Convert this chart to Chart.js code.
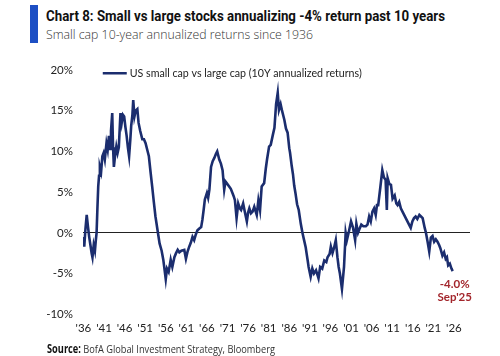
<!DOCTYPE html>
<html>
<head>
<meta charset="utf-8">
<script src="https://cdn.jsdelivr.net/npm/chart.js@4"></script>
<style>
  html, body { margin: 0; padding: 0; background: #fff; }
  #wrap { position: relative; width: 500px; height: 356px; overflow: hidden; }
  #bar { position: absolute; left: 30px; top: 5px; width: 8px; height: 38px; background: #1d4fc4; }
  .fit { position: absolute; white-space: nowrap; transform-origin: 0 0; }
  #title { left: 46px; top: 7px; font-family: Roboto, "Open Sans", sans-serif; font-weight: bold; font-size: 15px; color: #111; }
  #subtitle { left: 46px; top: 25px; font-family: "Open Sans", Lato, sans-serif; font-weight: 300; font-size: 13.5px; color: #333; }
  #source { left: 47px; top: 341px; font-family: "Open Sans", Lato, sans-serif; font-size: 11.5px; color: #333; }
  #source b { color: #111; }
  canvas { position: absolute; left: 0; top: 0; }
</style>
</head>
<body>
<div id="wrap">
  <div id="bar"></div>
  <div id="title" class="fit" data-w="399">Chart 8: Small vs large stocks annualizing -4% return past 10 years</div>
  <div id="subtitle" class="fit" data-w="267">Small cap 10-year annualized returns since 1936</div>
  <canvas id="c" width="500" height="356"></canvas>
  <div id="source" class="fit" data-w="228"><b>Source:</b> BofA Global Investment Strategy, Bloomberg</div>
</div>
<script>
const seriesLabel = "US small cap vs large cap (10Y annualized returns)";
const years = [
1936.0,1936.2,1936.5,1936.8,1937.1,1937.4,1937.7,1938.0,1938.2,1938.5,1938.8,1939.0,1939.2,1939.4,1939.6,1939.8,
1940.0,1940.3,1940.6,1940.9,1941.2,1941.6,1941.9,1942.2,1942.5,1942.7,1943.0,1943.2,1943.4,1943.7,1944.0,1944.3,1944.6,
1945.0,1945.3,1945.6,1945.9,1946.2,1946.5,1946.8,1947.1,1947.4,1947.6,1947.9,1948.1,1948.4,1948.7,1949.1,1949.4,1949.8,
1950.3,1950.7,1951.1,1951.5,1951.9,1952.3,1952.7,1953.1,1953.5,1954.1,1954.5,1955.0,1955.4,1955.7,1956.0,1956.3,1956.7,
1957.2,1957.6,1958.1,1958.5,1958.9,1959.3,1959.8,1960.5,1960.9,1961.3,1961.7,1962.1,1962.5,1962.9,1963.3,1963.7,1964.1,
1964.6,1964.9,1965.2,1965.5,1966.0,1966.3,1966.6,1967.0,1967.4,1967.8,1968.2,1968.5,1969.0,1969.4,1969.8,1970.2,1970.5,
1970.8,1971.4,1971.8,1972.2,1972.5,1972.8,1973.2,1973.6,1974.0,1974.3,1974.8,1975.2,1975.7,1976.0,1976.3,1976.7,1977.1,
1977.5,1978.1,1978.5,1978.9,1979.3,1979.9,1980.3,1980.6,1981.1,1981.5,1982.0,1982.4,1982.8,1983.2,1983.5,1983.9,1984.2,
1984.8,1985.2,1985.6,1986.0,1986.2,1986.6,1986.9,1987.2,1987.5,1987.9,1988.3,1988.8,1989.2,1989.6,1990.0,1990.2,1990.5,
1990.7,1991.2,1991.6,1992.0,1992.5,1993.1,1993.5,1994.0,1994.5,1995.0,1995.3,1995.8,1996.1,1996.5,1996.9,1997.3,1997.7,
1998.0,1998.3,1998.8,1999.3,1999.7,2000.0,2000.5,2001.0,2001.5,2002.0,2002.3,2002.7,2003.0,2003.5,2004.0,2004.6,2005.0,
2005.4,2005.8,2006.2,2006.6,2007.0,2007.3,2007.6,2008.1,2008.6,2009.0,2009.4,2009.7,2009.9,2010.3,2010.7,2011.1,2011.6,
2012.0,2012.3,2012.7,2013.1,2013.5,2013.9,2014.3,2014.7,2015.1,2015.5,2015.9,2016.3,2016.7,2017.1,2017.6,2018.0,2018.4,
2018.9,2019.2,2019.6,2020.0,2020.4,2020.8,2021.2,2021.6,2022.0,2022.4,2022.7,2023.2,2023.6,2024.0,2024.3,2024.6,2025.0,
2025.4,2025.7];
const values = [
-0.5,-1.7,0.5,2.2,0.8,-0.5,-1.5,-2.5,-3.0,-1.5,-2.2,-1.0,0.0,3.0,5.7,7.0,
8.1,7.5,9.4,9.8,9.0,11.0,10.2,11.9,10.3,12.5,14.7,10.5,8.1,9.5,10.6,9.8,10.5,
14.7,13.5,14.5,14.3,13.0,11.9,10.5,9.4,11.5,13.1,14.5,16.3,14.3,15.0,15.2,13.5,12.5,
11.5,11.5,11.0,10.2,9.4,7.5,5.7,3.8,2.0,0.0,-1.3,-2.2,-3.3,-4.5,-5.7,-4.4,-4.8,
-3.3,-4.2,-3.0,-2.5,-2.1,-2.4,-2.2,-2.1,-3.2,-2.3,-1.7,-1.2,-0.5,-0.9,-0.2,0.3,0.5,
0.7,1.6,2.8,4.1,4.9,4.3,5.3,8.1,8.8,9.2,9.7,10.0,9.0,8.5,7.7,5.3,6.3,
6.1,5.7,5.4,4.9,4.5,4.0,1.8,3.6,3.0,2.8,3.6,2.6,1.4,2.5,3.0,2.4,2.6,
3.2,2.2,4.0,2.8,5.7,6.1,7.9,9.0,10.6,10.8,12.0,12.9,15.8,17.2,15.1,15.8,15.1,
13.9,12.8,12.3,10.4,9.8,8.2,7.2,5.8,4.9,3.5,2.8,1.1,0.0,-0.9,-1.8,-2.5,-3.5,
-4.2,-5.4,-4.4,-5.0,-4.6,-5.6,-4.2,-4.4,-3.4,-3.6,-3.0,-2.6,-1.7,-2.5,-1.8,-0.9,-3.0,
-4.2,-5.0,-6.9,-4.2,0.0,-0.9,0.2,1.4,0.6,-0.9,1.1,0.0,0.4,1.0,0.8,0.8,1.0,
2.0,1.4,2.6,3.0,2.2,3.4,3.4,5.5,7.7,6.8,6.5,2.8,6.7,6.0,5.9,4.2,4.6,
3.6,3.4,3.8,3.0,2.6,2.2,1.8,1.4,1.0,0.6,1.4,1.8,2.0,1.7,2.2,2.0,1.8,
0.6,0.0,-1.1,-2.3,-0.6,-0.4,-1.1,-0.8,-1.1,-1.5,-1.9,-2.8,-2.4,-3.2,-3.0,-4.0,-3.8,
-4.4,-4.7];
const xTickYears = [1936,1941,1946,1951,1956,1961,1966,1971,1976,1981,1986,1991,1996,2001,2006,2011,2016,2021,2026];
const xTickLabels = ["'36","'41","'46","'51","'56","'61","'66","'71","'76","'81","'86","'91","'96","'01","'06","'11","'16","'21","'26"];
const yTickValues = [20,15,10,5,0,-5,-10];
const lastValueLabel = "-4.0%";
const lastDateLabel = "Sep'25";

document.querySelectorAll('.fit').forEach(el => {
  const target = parseFloat(el.dataset.w);
  const w = el.getBoundingClientRect().width;
  if (w > 0) el.style.transform = 'scaleX(' + (target / w) + ')';
});

const points = years.map((y, i) => ({ x: y, y: values[i] }));
const navy = '#1b2d6e';

const overlay = {
  id: 'overlay',
  afterDraw(chart) {
    const ctx = chart.ctx;
    const xs = chart.scales.x, ys = chart.scales.y;
    ctx.save();
    // legend inside plot
    const lx = xs.getPixelForValue(1940.7), ly = ys.getPixelForValue(19.6);
    ctx.strokeStyle = navy; ctx.lineWidth = 2.5;
    ctx.beginPath(); ctx.moveTo(lx, ly); ctx.lineTo(lx + 24, ly); ctx.stroke();
    ctx.fillStyle = '#222';
    ctx.font = '11px Lato, "Open Sans", sans-serif';
    ctx.textBaseline = 'middle'; ctx.textAlign = 'left';
    const tw = ctx.measureText(seriesLabel).width;
    ctx.save();
    ctx.translate(lx + 27, ly);
    ctx.scale(232 / tw, 1);
    ctx.fillText(seriesLabel, 0, 0);
    ctx.restore();
    // end annotation
    const last = points[points.length - 1];
    const ax = xs.getPixelForValue(last.x) + 2;
    const ay = ys.getPixelForValue(last.y);
    ctx.fillStyle = '#a3262c';
    ctx.font = 'bold 11.5px Lato, "Open Sans", sans-serif';
    ctx.textAlign = 'center';
    ctx.fillText(lastValueLabel, ax, ay + 13);
    ctx.fillText(lastDateLabel, ax, ay + 26);
    ctx.restore();
  }
};

new Chart(document.getElementById('c'), {
  type: 'line',
  data: { datasets: [{ label: seriesLabel, data: points, borderColor: navy, borderWidth: 2.6, pointRadius: 0, tension: 0, fill: false }] },
  options: {
    responsive: false, animation: false, devicePixelRatio: 1,
    layout: { padding: { left: 0, right: 30, top: 70, bottom: 14 } },
    plugins: { legend: { display: false }, tooltip: { enabled: false } },
    scales: {
      x: {
        type: 'linear', min: 1935.9, max: 2029.9,
        grid: { display: false, drawTicks: false }, border: { display: false },
        afterBuildTicks: (s) => { s.ticks = xTickYears.map(v => ({ value: v })); },
        ticks: { padding: 7, autoSkip: false, maxRotation: 0, minRotation: 0, color: '#222',
          font: { family: 'Lato, "Open Sans", sans-serif', size: 11.5 },
          callback: (v, i) => xTickLabels[i] }
      },
      y: {
        min: -10, max: 20,
        afterBuildTicks: (s) => { s.ticks = yTickValues.map(v => ({ value: v })); },
        afterFit: (s) => { s.width = 83; },
        grid: { drawTicks: false, lineWidth: 1, color: (c) => c.tick && c.tick.value === 0 ? '#222' : 'rgba(0,0,0,0)' },
        border: { display: false },
        ticks: { padding: 10, color: '#222', font: { family: 'Lato, "Open Sans", sans-serif', size: 11.5 },
          callback: (v) => v + '%' }
      }
    }
  },
  plugins: [overlay]
});
</script>
</body>
</html>
